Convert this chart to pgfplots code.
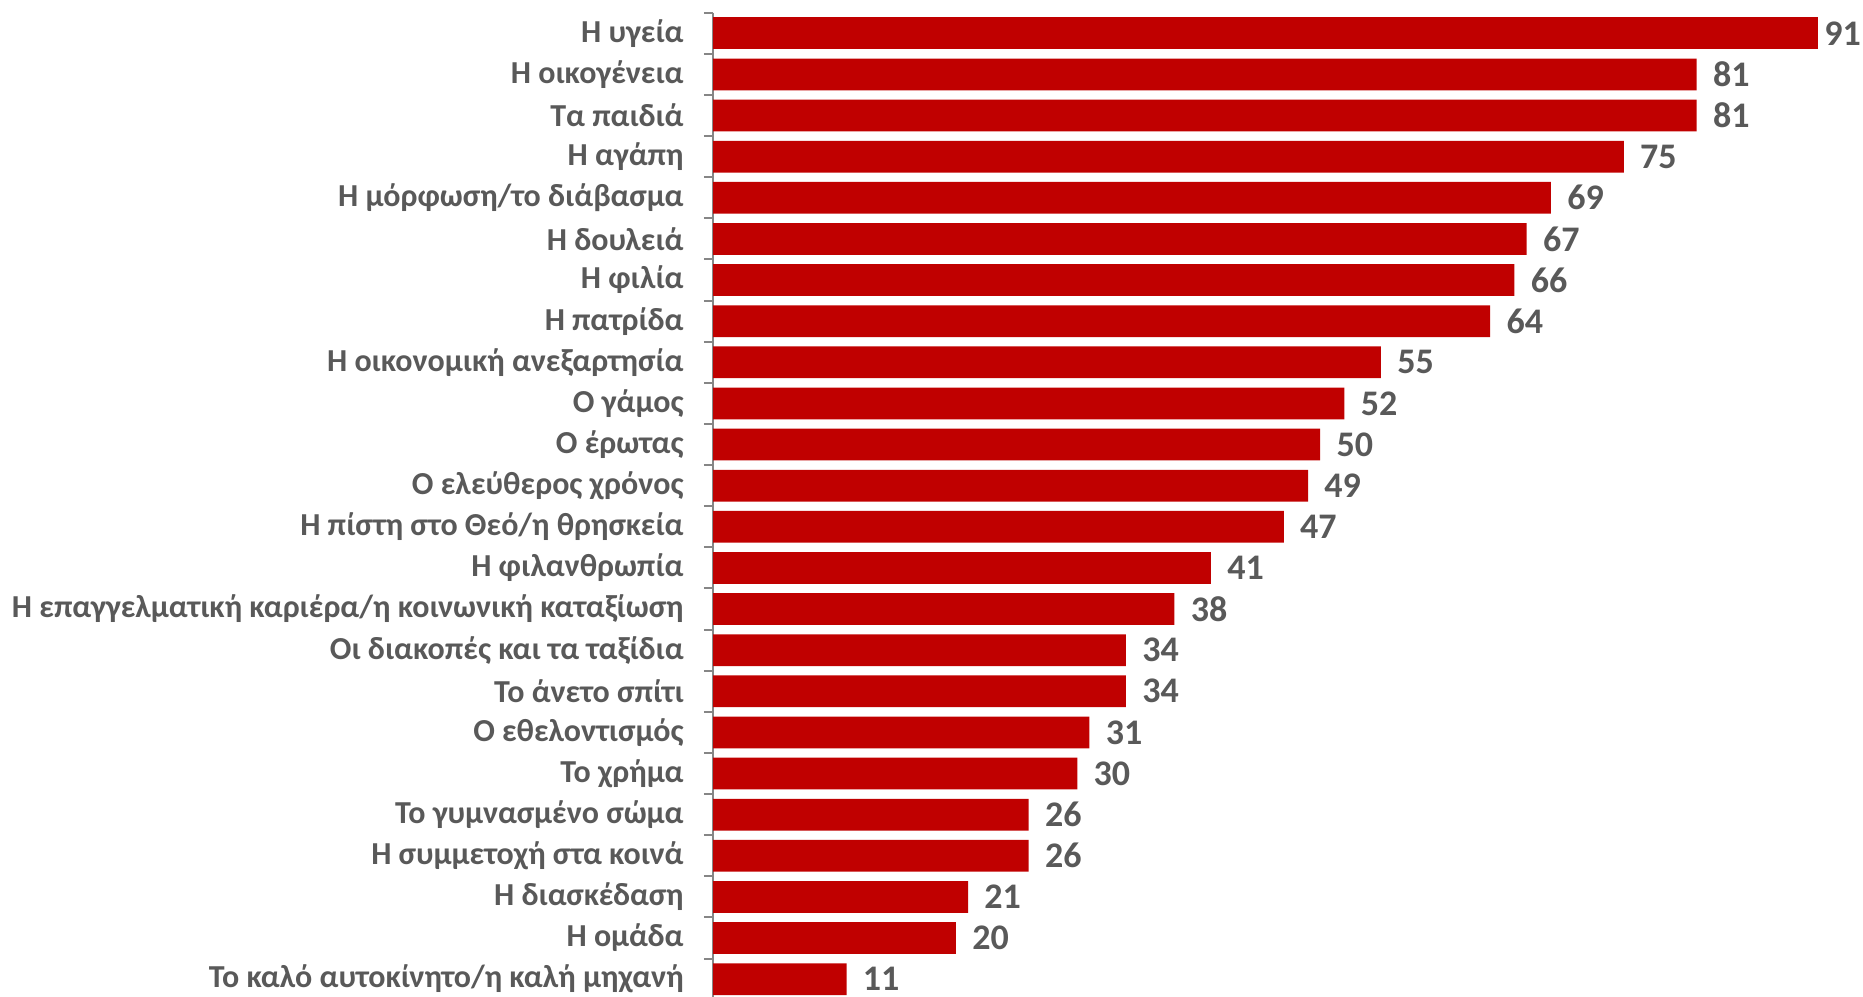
\documentclass[border=0pt]{standalone}
\usepackage{pgfplots}
\pgfplotsset{compat=1.18}
\usepackage{pgfplotstable}
\usepackage{fontspec}
\setmainfont{Carlito}
\definecolor{barred}{HTML}{C00000}
\definecolor{txtgray}{HTML}{595959}
\definecolor{axgray}{HTML}{868686}
\pgfplotstableread{
y v
0 91
1 81
2 81
3 75
4 69
5 67
6 66
7 64
8 55
9 52
10 50
11 49
12 47
13 41
14 38
15 34
16 34
17 31
18 30
19 26
20 26
21 21
22 20
23 11
}\data
\begin{document}
\begin{tikzpicture}
\path[use as bounding box] (0,0) rectangle (931.5bp,-498.5bp);
\begin{axis}[
  at={(356.5bp,-6.35bp)}, anchor=north west,
  scale only axis, width=575bp, height=493.5bp,
  xmin=0, xmax=94.7, ymin=-0.5, ymax=23.5, y dir=reverse,
  axis x line=none, axis y line*=left,
  axis line style={axgray, line width=1bp},
  ytick={0,...,23},
  yticklabels={Η υγεία, Η οικογένεια, Τα παιδιά, Η αγάπη, Η μόρφωση/το διάβασμα, Η δουλειά, Η φιλία, Η πατρίδα, Η οικονομική ανεξαρτησία, Ο γάμος, Ο έρωτας, Ο ελεύθερος χρόνος, Η πίστη στο Θεό/η θρησκεία, Η φιλανθρωπία, Η επαγγελματική καριέρα/η κοινωνική καταξίωση, Οι διακοπές και τα ταξίδια, Το άνετο σπίτι, Ο εθελοντισμός, Το χρήμα, Το γυμνασμένο σώμα, Η συμμετοχή στα κοινά, Η διασκέδαση, Η ομάδα, Το καλό αυτοκίνητο/η καλή μηχανή},
  major tick length=0pt,
  minor ytick={-0.5,0.5,...,23.5},
  minor tick length=4.5bp,
  tick align=outside,
  tick style={axgray, line width=1bp},
  yticklabel style={font=\fontsize{16bp}{18bp}\selectfont\bfseries, text=txtgray, anchor=east, inner sep=0pt, xshift=-14.5bp},
  /pgf/number format/assume math mode=true,
  clip=false,
]
\addplot[xbar, bar shift=0pt, bar width=15.9bp, fill=barred, draw=none,
  skip coords between index={1}{24},
  nodes near coords, nodes near coords style={font=\fontsize{18bp}{20bp}\selectfont\bfseries, text=txtgray, anchor=west, inner sep=0pt, xshift=3bp}]
  table[x=v, y=y] {\data};
\addplot[xbar, bar shift=0pt, bar width=15.9bp, fill=barred, draw=none,
  skip coords between index={0}{1},
  nodes near coords, nodes near coords style={font=\fontsize{18bp}{20bp}\selectfont\bfseries, text=txtgray, anchor=west, inner sep=0pt, xshift=8bp}]
  table[x=v, y=y] {\data};
\end{axis}
\end{tikzpicture}
\end{document}
